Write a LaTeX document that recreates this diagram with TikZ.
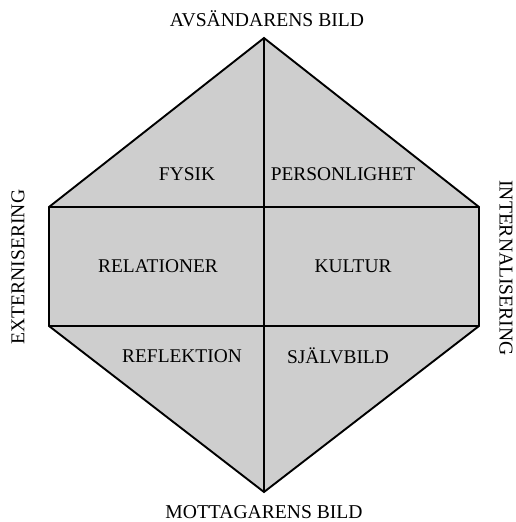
\documentclass[tikz,border=0pt]{standalone}
\usepackage{fontspec}
\setmainfont{Liberation Serif}
\definecolor{ljusgra}{RGB}{206,206,206}

\begin{document}
\begin{tikzpicture}[x=1pt, y=-1pt, line width=1.9pt]
	% Stilar
	\tikzset{etikett/.style={font=\fontsize{19.6}{22}\selectfont, inner sep=0pt}}
	\tikzset{ruta/.style={font=\fontsize{19.4}{22}\selectfont, inner sep=0pt}}

	% Bildens ram
	\useasboundingbox (0,0) rectangle (515,522);

	% Sexhornets horn
	\coordinate (topp)  at (264,38);
	\coordinate (botten) at (264,492);
	\coordinate (vo) at (49,207);
	\coordinate (ho) at (479,207);
	\coordinate (vu) at (49,326);
	\coordinate (hu) at (479,326);
	\coordinate (mo) at (264,207);
	\coordinate (mu) at (264,326);

	% Ytan och linjerna
	\draw[fill=ljusgra, line join=miter] (topp) -- (ho) -- (hu) -- (botten) -- (vu) -- (vo) -- cycle;
	\draw (vo) -- (ho);
	\draw (vu) -- (hu);
	\draw (topp) -- (botten);

	% Yttre texter
	\node[etikett] (sandare) at (267,19) {AVSÄNDARENS BILD};
	\node[etikett] (mottagare) at (264,512) {MOTTAGARENS BILD};
	\node[etikett, rotate=90] (ext) at (18,267) {EXTERNISERING};
	\node[etikett, rotate=-90] (int) at (506,268) {INTERNALISERING};

	% Rutornas texter
	\node[ruta] (fysik) at (187,174) {FYSIK};
	\node[ruta] (person) at (343,174) {PERSONLIGHET};
	\node[ruta] (relation) at (158,266) {RELATIONER};
	\node[ruta] (kultur) at (353,266) {KULTUR};
	\node[ruta] (reflektion) at (182,356) {REFLEKTION};
	\node[ruta] (sjalv) at (338,356) {SJÄLVBILD};
\end{tikzpicture}
\end{document}
